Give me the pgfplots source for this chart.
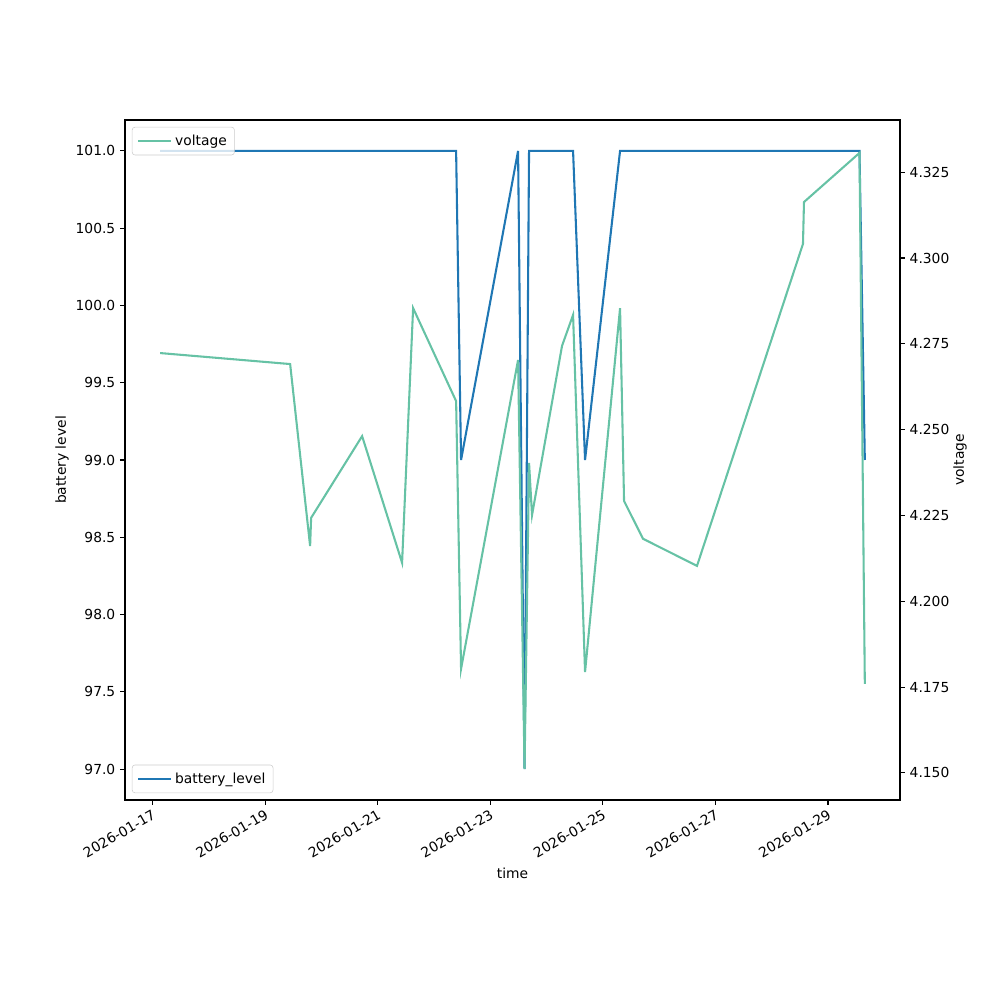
\documentclass[border=0pt]{standalone}
\usepackage{fontspec}
\setmainfont{DejaVu Sans}
\usepackage{pgfplots}
\pgfplotsset{compat=1.18}
\definecolor{mplblue}{HTML}{1F77B4}
\definecolor{mplgreen}{HTML}{66C2A5}
\begin{document}
\fontsize{10}{12}\selectfont
\begin{tikzpicture}
\path[use as bounding box] (-90.34pt,-144.54pt) rectangle (632.36pt,578.16pt);
\pgfplotsset{
  common/.style={
    scale only axis, width=560.09pt, height=491.44pt,
    at={(0,0)}, anchor=south west,
    xmin=-0.49, xmax=13.28,
    tick align=outside, major tick length=3.5pt,
    every tick/.style={black, line width=0.8pt},
    axis line style={line width=0.8pt},
    tick label style={font=\fontsize{10}{12}\selectfont},
    label style={font=\fontsize{10}{12}\selectfont},
    /pgf/number format/assume math mode=true,
    legend style={draw=black!20, rounded corners=2pt, font=\fontsize{10}{12}\selectfont,
      fill=white, fill opacity=0.8, text opacity=1, draw opacity=1,
      inner xsep=3.5pt, inner ysep=3.5pt},
    legend cell align=left,
    legend image code/.code={\draw[#1] (0pt,0pt) -- (20pt,0pt); \path (0pt,0pt) -- (24pt,0pt);},
  }
}
\begin{axis}[common,
  ymin=96.8, ymax=101.2,
  ytick={97,97.5,98,98.5,99,99.5,100,100.5,101},
  yticklabel style={/pgf/number format/.cd, fixed, fixed zerofill, precision=1},
  xtick={0,2,4,6,8,10,12},
  xticklabels={2026-01-17,2026-01-19,2026-01-21,2026-01-23,2026-01-25,2026-01-27,2026-01-29},
  xticklabel style={rotate=30, anchor=north east, inner sep=2pt},
  xtick pos=bottom, ytick pos=left,
  xlabel={time}, ylabel={battery level},
  xlabel style={at={(axis description cs:0.5,-0.1074)}, anchor=center},
  ylabel style={at={(axis description cs:-0.0813,0.5)}, anchor=center, rotate=0},
  legend style={at={(axis description cs:0,0)}, anchor=south west, xshift=5pt, yshift=5pt},
]
\addplot[mplblue, line width=1.5pt] coordinates {
(0.135,101) (5.393,101) (5.481,99) (6.494,101) (6.609,97) (6.689,101)
(7.471,101) (7.684,99) (8.306,101) (12.56,101) (12.655,99)
};
\addlegendentry{battery\_level}
\end{axis}
\begin{axis}[common,
  ymin=4.1421, ymax=4.3402,
  axis y line*=right, axis x line=none,
  tick align=outside,
  ytick={4.15,4.175,4.2,4.225,4.25,4.275,4.3,4.325},
  yticklabel style={/pgf/number format/.cd, fixed, fixed zerofill, precision=3},
  ylabel={voltage},
  ylabel style={at={(axis description cs:1.0774,0.5)}, anchor=center, rotate=0},
  legend style={at={(axis description cs:0,1)}, anchor=north west, xshift=5pt, yshift=-5pt},
]
\addplot[mplgreen, line width=1.5pt] coordinates {
(0.135,4.2723) (2.444,4.2691) (2.799,4.2161) (2.817,4.2243) (3.723,4.2481)
(4.433,4.2112) (4.629,4.2854) (5.393,4.2583) (5.481,4.1803) (6.494,4.2703)
(6.609,4.1512) (6.689,4.2403) (6.742,4.2251) (7.275,4.2744) (7.471,4.2834)
(7.684,4.1794) (8.306,4.2854) (8.377,4.2292) (8.714,4.2182) (9.673,4.2103)
(11.556,4.3041) (11.574,4.3163) (12.56,4.3306) (12.655,4.1759)
};
\addlegendentry{voltage}
\end{axis}
\end{tikzpicture}
\end{document}
